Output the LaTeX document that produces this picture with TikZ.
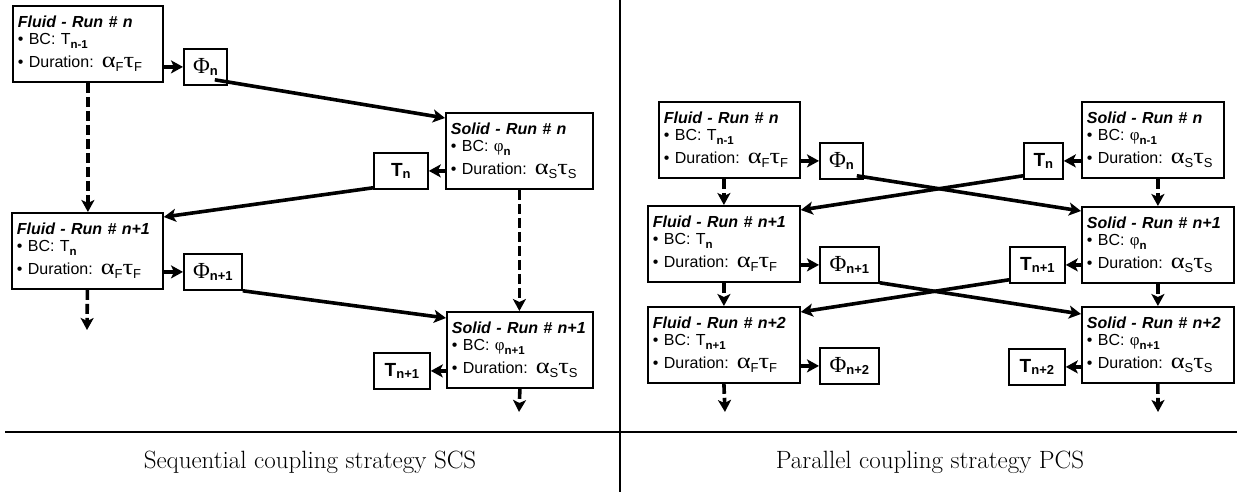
\documentclass[tikz,border=0pt]{standalone}
\usepackage{fontspec}
\usepackage{graphicx}
\usetikzlibrary{arrows.meta}

\newfontfamily\boxfont{Liberation Sans}
\newfontfamily\greekfont{Liberation Serif}

% bold lowered index, optional size
\newcommand{\lo}[2][11.5]{\raisebox{-0.45ex}{\fontsize{#1}{#1}\selectfont\bfseries #2}}
\newcommand{\gk}[2][22]{{\greekfont\fontsize{#1}{#1}\selectfont #2}}
% wide greek letters for the run durations
\newcommand{\wgk}[1]{\scalebox{1.2}[1]{\gk{#1}}}
\newcommand{\dur}[1]{\wgk{α}\raisebox{-0.5ex}{\fontsize{13}{13}\selectfont #1}\wgk{τ}\raisebox{-0.5ex}{\fontsize{13}{13}\selectfont #1}}
\newcommand{\runtext}[3]{{\bfseries\itshape #1}\\[-2pt]• BC: #2\\[4pt]• Duration: #3}
\newcommand{\phival}[1]{\gk[23]{Φ}\lo[13]{#1}}
\newcommand{\tval}[1]{{\bfseries\fontsize{19}{19}\selectfont T}\lo[13]{#1}}

\tikzset{
  runbox/.style={draw, line width=1.8pt, anchor=north west, align=left,
    inner xsep=5pt, inner ysep=3pt, minimum height=76pt,
    font=\boxfont\fontsize{16}{19}\selectfont},
  valbox/.style={draw, line width=1.8pt, anchor=north west, inner sep=1pt,
    minimum height=36pt, font=\boxfont},
  flow/.style={line width=3.6pt, -{Stealth[length=12pt,width=13pt,inset=3pt]}},
  broken/.style={flow, dash pattern=on 10pt off 4pt},
}

\begin{document}
\begin{tikzpicture}[x=1pt, y=-1pt]

	\useasboundingbox (0,0) rectangle (1242,492);

	% sequential coupling
	\node[runbox, text width=140pt] (fluidA) at (12,5) {\runtext{Fluid - Run \# n}{T\lo{n-1}}{\dur{F}}};
	\node[valbox, minimum width=43pt] (phiA) at (183,48) {\phival{n}};
	\node[runbox, text width=137pt] (solidA) at (445,112) {\runtext{Solid - Run \# n}{\gk[17]{φ}\lo{n}}{\dur{S}}};
	\node[valbox, minimum width=54pt] (TA) at (373,152) {\tval{n}};
	\node[runbox, text width=141pt] (fluidB) at (11,212) {\runtext{Fluid - Run \# n+1}{T\lo{n}}{\dur{F}}};
	\node[valbox, minimum width=58pt] (phiB) at (183,253) {\phival{n+1}};
	\node[runbox, text width=136pt] (solidB) at (446,311) {\runtext{Solid - Run \# n+1}{\gk[17]{φ}\lo{n+1}}{\dur{S}}};
	\node[valbox, minimum width=56pt] (TB) at (373,352) {\tval{n+1}};

	\coordinate (fluidEnd) at (87,330);
	\coordinate (solidEnd) at (519,412);

	\draw[flow] (fluidA.east |- phiA.west) -- (phiA.west);
	\draw[flow] ([shift={(-13,-6)}]phiA.south east) -- ([yshift=-6]solidA.north west);
	\draw[flow] (solidA.west |- TA.east) -- (TA.east);
	\draw[flow] ([yshift=2]TA.south west) -- ([yshift=-5]fluidB.north east);
	\draw[flow] (fluidB.east |- phiB.west) -- (phiB.west);
	\draw[flow] (phiB.south east) -- ([yshift=-7]solidB.north west);
	\draw[flow] (solidB.west |- TB.east) -- (TB.east);

	\draw[broken] (fluidA.south) -- (fluidA.south |- fluidB.north);
	\draw[broken] (fluidB.south) -- (fluidEnd);
	\draw[broken] (solidA.south) -- (solidA.south |- solidB.north);
	\draw[broken] (solidB.south) -- (solidEnd);

	% parallel coupling
	\node[runbox, text width=131pt] (rfluidA) at (658,101) {\runtext{Fluid - Run \# n}{T\lo{n-1}}{\dur{F}}};
	\node[valbox, minimum width=43pt] (rphiA) at (819,142) {\phival{n}};
	\node[runbox, text width=142pt] (rfluidB) at (647,205) {\runtext{Fluid - Run \# n+1}{T\lo{n}}{\dur{F}}};
	\node[valbox, minimum width=59pt] (rphiB) at (819,246) {\phival{n+1}};
	\node[runbox, text width=142pt] (rfluidC) at (647,306) {\runtext{Fluid - Run \# n+2}{T\lo{n+1}}{\dur{F}}};
	\node[valbox, minimum width=59pt] (rphiC) at (819,347) {\phival{n+2}};

	\node[runbox, text width=132pt] (rsolidA) at (1081,101) {\runtext{Solid - Run \# n}{\gk[17]{φ}\lo{n-1}}{\dur{S}}};
	\node[valbox, minimum width=39pt] (rTA) at (1023,142) {\tval{n}};
	\node[runbox, text width=142pt] (rsolidB) at (1081,206) {\runtext{Solid - Run \# n+1}{\gk[17]{φ}\lo{n}}{\dur{S}}};
	\node[valbox, minimum width=55pt] (rTB) at (1009,246) {\tval{n+1}};
	\node[runbox, text width=142pt] (rsolidC) at (1081,306) {\runtext{Solid - Run \# n+2}{\gk[17]{φ}\lo{n+1}}{\dur{S}}};
	\node[valbox, minimum width=56pt] (rTC) at (1008,348) {\tval{n+2}};

	\coordinate (rfluidEnd) at (725,412);
	\coordinate (rsolidEnd) at (1158,412);

	\draw[flow] (rfluidA.east |- rphiA.west) -- (rphiA.west);
	\draw[flow] ([shift={(-7,-4)}]rphiA.south east) -- ([yshift=-5]rsolidB.north west);
	\draw[flow] (rsolidA.west |- rTA.east) -- (rTA.east);
	\draw[flow] ([yshift=4]rTA.south west) -- ([yshift=-5]rfluidB.north east);
	\draw[flow] (rfluidB.east |- rphiB.west) -- (rphiB.west);
	\draw[flow] ([yshift=1]rphiB.south east) -- ([yshift=-8]rsolidC.north west);
	\draw[flow] (rsolidB.west |- rTB.east) -- (rTB.east);
	\draw[flow] ([yshift=4]rTB.south west) -- ([yshift=-6]rfluidC.north east);
	\draw[flow] (rfluidC.east |- rphiC.west) -- (rphiC.west);
	\draw[flow] (rsolidC.west |- rTC.east) -- (rTC.east);

	\draw[broken] (rfluidB.north |- rfluidA.south) -- (rfluidB.north);
	\draw[broken] (rfluidC.north |- rfluidB.south) -- (rfluidC.north);
	\draw[broken] (rfluidC.south) -- (rfluidEnd);
	\draw[broken] (rsolidB.north |- rsolidA.south) -- (rsolidB.north);
	\draw[broken] (rsolidC.north |- rsolidB.south) -- (rsolidC.north);
	\draw[broken] (rsolidC.south) -- (rsolidEnd);

	% frame and captions
	\draw[line width=2pt] (5,432) -- (1237,432);
	\draw[line width=1.4pt] (620,0) -- (620,492);
	\node[font=\fontsize{25}{28}\selectfont] (scs) at (310,462) {Sequential coupling strategy SCS};
	\node[font=\fontsize{25}{28}\selectfont] (pcs) at (930,462) {Parallel coupling strategy PCS};

\end{tikzpicture}
\end{document}
